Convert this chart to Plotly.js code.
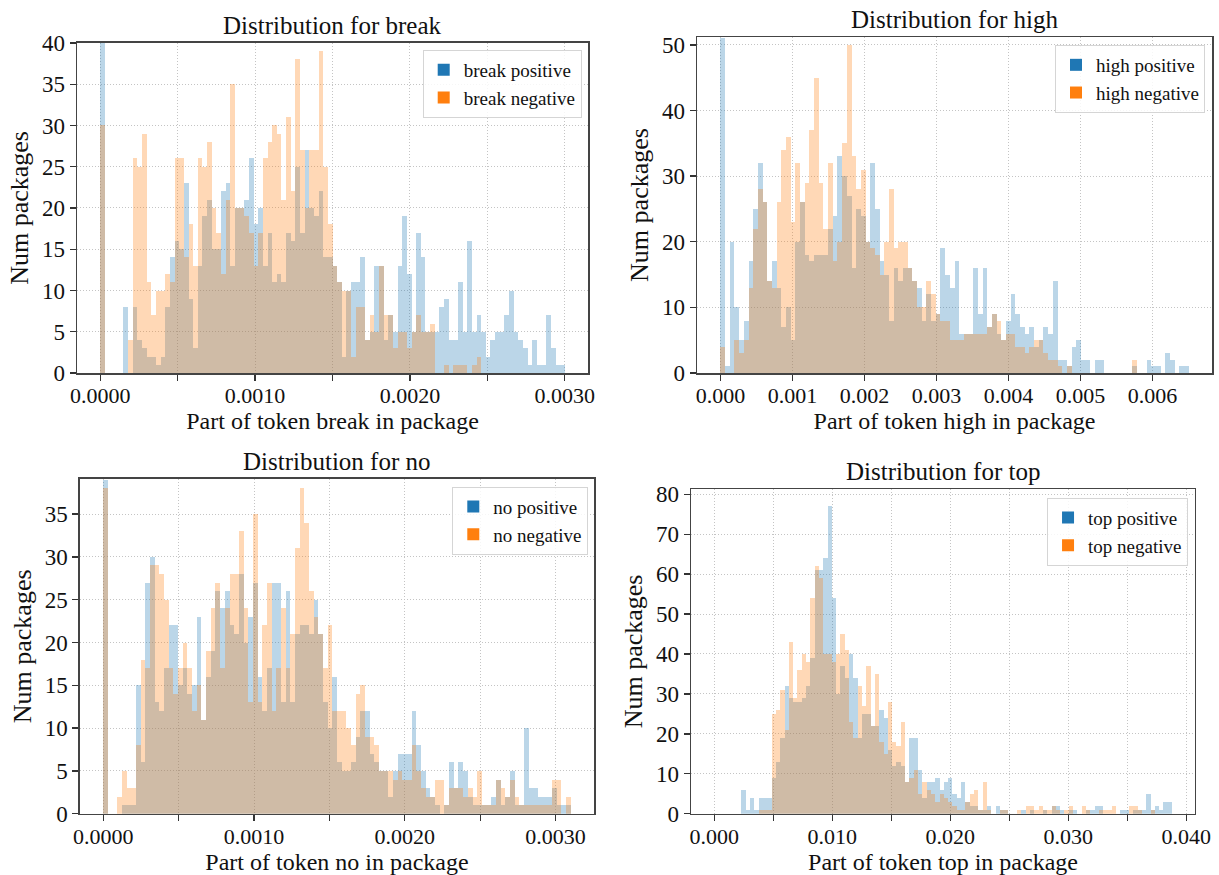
<!DOCTYPE html>
<html>
<head>
<meta charset="utf-8">
<script src="https://cdn.plot.ly/plotly-3.0.1.min.js"></script>
<style>
html,body{margin:0;padding:0;background:#fff;}
#chart{width:1219px;height:875px;}
#chart text{font-family:"Liberation Serif", serif !important;}
</style>
</head>
<body>
<div id="chart"></div>
<script>
// ---------- DATA (bin counts) ----------
const tokens = ["break", "high", "no", "top"];

// break: 100 bins starting at 0, width 0.00003
const breakBinStart = 0, breakBinWidth = 0.00003;
const breakPositive = [40,0,0,0,0,8,0,8,4,3, 2,2,1,2,8,14,16,15,23,9, 3,13,19,21,15,15,22,23,13,20, 20,21,26,18,20,13,17,11,12,11, 17,16,25,17,27,20,19,22,14,14,
  13,11,2,10,11,11,14,4,5,13, 13,4,7,5,13,19,12,5,17,14, 5,5,5,8,9,4,4,11,5,16, 5,7,5,2,4,5,5,7,10,5, 4,3,1,4,1,1,7,3,1,1];
const breakNegative = [30,0,0,0,0,0,4,26,25,29, 11,7,10,10,12,11,26,26,14,18, 13,26,25,28,20,17,12,21,35,20, 20,19,17,13,17,26,28,30,29,21, 31,22,38,27,20,27,27,39,25,18,
  13,11,10,10,2,8,8,4,7,5, 13,7,7,3,5,5,3,5,7,5, 5,6,0,0,1,0,1,1,1,0, 1,2,0,0,0,0,0,0,0,0, 0,0,0,0,0,0,0,0,0,0];

// high: 100 bins starting at 0, width 0.000065
const highBinStart = 0, highBinWidth = 0.000065;
const highPositive = [51,1,20,10,5,8,17,25,32,26, 14,17,13,7,10,5,20,26,18,17, 18,18,18,22,24,33,30,27,16,25, 24,20,32,25,17,15,8,16,14,16, 16,14,13,8,12,8,9,19,15,13,
  17,6,6,6,16,9,16,7,9,6, 5,8,12,9,7,6,7,4,5,7, 6,14,2,2,1,4,5,2,2,0, 2,2,0,0,0,0,0,0,1,0, 0,2,1,1,0,3,2,0,1,1];
const highNegative = [4,0,0,5,3,5,13,22,28,26, 14,13,26,34,36,23,32,26,29,37, 45,29,22,32,17,20,35,50,33,28, 31,20,19,18,15,20,28,19,20,20, 16,14,10,10,14,12,9,8,8,5,
  5,5,6,6,6,6,6,7,9,8, 5,6,6,4,4,3,4,5,5,3, 2,2,1,0,1,0,0,0,0,0, 0,0,0,0,0,0,0,0,2,0, 0,0,0,0,0,0,0,0,0,0];

// no: 100 bins starting at 0, width 0.000031
const noBinStart = 0, noBinWidth = 0.000031;
const noPositive = [39,0,0,0,1,1,1,15,6,27, 30,13,12,17,22,22,15,17,14,15, 23,11,16,19,26,24,26,22,21,28, 20,23,27,16,12,17,27,27,13,26, 13,21,22,22,21,25,21,13,10,16,
  6,5,5,6,9,12,12,7,6,5, 5,2,5,7,7,7,12,8,5,3, 2,1,0,1,6,3,6,5,2,1, 1,1,1,2,4,1,2,5,1,1, 10,3,3,2,2,2,3,1,1,1];
const noNegative = [38,0,0,2,5,3,3,8,18,17, 29,29,28,25,17,14,17,20,17,12, 15,11,19,24,27,17,24,28,28,33, 24,13,35,13,22,27,12,17,24,17, 21,31,38,34,26,23,21,17,22,12,
  12,12,10,8,14,15,9,9,8,5, 5,5,4,5,4,4,8,5,3,2, 2,4,4,1,3,3,3,2,3,2, 5,1,1,1,4,3,2,4,2,1, 1,1,1,1,1,1,4,4,0,2];

// top: 100 bins starting at 0.0023, width 0.000365
const topBinStart = 0.0023, topBinWidth = 0.000365;
const topPositive = [6,1,4,1,4,4,4,9,13,19, 32,29,28,28,29,32,39,61,61,64, 77,54,30,37,34,40,34,19,25,25, 22,22,26,24,16,12,13,12,8,19, 19,11,4,8,8,9,6,8,9,5,
  4,8,3,2,2,1,1,2,0,2, 1,1,0,0,0,1,0,1,0,0, 1,0,2,2,1,0,1,1,0,0, 1,1,2,2,0,0,0,0,1,1, 0,1,1,1,5,1,2,1,3,3];
const topNegative = [0,0,0,0,1,1,1,25,26,31, 21,43,29,36,40,38,54,62,59,40, 40,38,40,45,41,23,19,32,27,37, 22,35,18,15,28,18,17,23,8,9, 11,5,8,6,5,3,5,4,3,2,
  1,1,3,5,6,1,8,1,0,0, 1,1,0,0,1,0,2,2,1,2, 1,1,2,1,0,1,2,0,0,2, 1,0,0,1,1,1,2,0,0,0, 2,2,1,0,0,1,0,0,0,0];

// tick labels
const breakTickVals = [0, 0.0005, 0.0010, 0.0015, 0.0020, 0.0025, 0.0030];
const breakTickText = ["0.0000", "", "0.0010", "", "0.0020", "", "0.0030"];
const highTickVals = [0, 0.001, 0.002, 0.003, 0.004, 0.005, 0.006];
const highTickText = ["0.000", "0.001", "0.002", "0.003", "0.004", "0.005", "0.006"];
const noTickVals = [0, 0.0005, 0.0010, 0.0015, 0.0020, 0.0025, 0.0030];
const noTickText = ["0.0000", "", "0.0010", "", "0.0020", "", "0.0030"];
const topTickVals = [0, 0.005, 0.010, 0.015, 0.020, 0.025, 0.030, 0.035, 0.040];
const topTickText = ["0.000", "", "0.010", "", "0.020", "", "0.030", "", "0.040"];

// ---------- BUILD ----------
const FONT = "Liberation Serif";
const BLUE = "#1f77b4", ORANGE = "#ff7f0e";

function centers(start, width, n) {
  const out = [];
  for (let i = 0; i < n; i++) out.push(start + (i + 0.5) * width);
  return out;
}

const panels = [
  {tok: tokens[0], pos: breakPositive, neg: breakNegative, start: breakBinStart, w: breakBinWidth, ax: "", leg: "legend"},
  {tok: tokens[1], pos: highPositive, neg: highNegative, start: highBinStart, w: highBinWidth, ax: "2", leg: "legend2"},
  {tok: tokens[2], pos: noPositive, neg: noNegative, start: noBinStart, w: noBinWidth, ax: "3", leg: "legend3"},
  {tok: tokens[3], pos: topPositive, neg: topNegative, start: topBinStart, w: topBinWidth, ax: "4", leg: "legend4"}
];

const traces = [];
panels.forEach(p => {
  const xs = centers(p.start, p.w, p.pos.length);
  [[p.pos, BLUE, " positive"], [p.neg, ORANGE, " negative"]].forEach(([vals, col, suf]) => {
    traces.push({
      type: "bar", x: xs, y: vals, width: p.w,
      name: p.tok + suf,
      marker: {color: col, opacity: 0.3, line: {width: 0}},
      xaxis: "x" + p.ax, yaxis: "y" + p.ax, legend: p.leg,
      hoverinfo: "x+y"
    });
  });
});

const GRID = "#c4c4c4", GDASH = "1px,2px";
function xax(domain, range, tv, tt, title, anchor) {
  return {
    domain: domain, range: range, anchor: anchor,
    tickmode: "array", tickvals: tv, ticktext: tt,
    ticks: "outside", ticklen: 6, tickwidth: 1.3, tickcolor: "#333",
    ticklabelstandoff: -4,
    showline: true, mirror: true, linecolor: "#444", linewidth: 1.5,
    showgrid: true, gridcolor: GRID, griddash: GDASH, gridwidth: 1,
    zeroline: false, automargin: false,
    tickfont: {family: FONT, size: 22, color: "#111"},
    title: {text: title, font: {family: FONT, size: 24, color: "#111"}, standoff: 0}
  };
}
function yax(domain, range, dtick, anchor) {
  return {
    domain: domain, range: range, anchor: anchor,
    tick0: 0, dtick: dtick,
    ticks: "outside", ticklen: 6, tickwidth: 1.3, tickcolor: "#333",
    showline: true, mirror: true, linecolor: "#444", linewidth: 1.5,
    showgrid: true, gridcolor: GRID, griddash: GDASH, gridwidth: 1,
    zeroline: false, automargin: false,
    tickfont: {family: FONT, size: 23, color: "#111"},
    title: {text: "Num packages", font: {family: FONT, size: 26, color: "#111"}, standoff: 6}
  };
}
function leg(x, y) {
  return {x: x, y: y, xanchor: "right", yanchor: "top", xref: "paper", yref: "paper",
    bgcolor: "rgba(255,255,255,0.85)", bordercolor: "#d5d5d5", borderwidth: 1,
    font: {family: FONT, size: 19, color: "#111"}, itemwidth: 30, tracegroupgap: 0};
}
function ttl(tok, ax) {
  return {text: "Distribution for " + tok, xref: "x" + ax + " domain", yref: "y" + ax + " domain",
    x: 0.5, y: 1, yanchor: "bottom", xanchor: "center", yshift: 2, showarrow: false,
    font: {family: FONT, size: 25, color: "#111"}};
}

const layout = {
  width: 1219, height: 875,
  margin: {l: 0, r: 0, t: 0, b: 0},
  paper_bgcolor: "#fff", plot_bgcolor: "#fff",
  barmode: "overlay", bargap: 0,
  font: {family: FONT, color: "#111"},
  xaxis: xax([0.0632, 0.4824], [-0.00015, 0.00315], breakTickVals, breakTickText, "Part of token break in package", "y"),
  yaxis: yax([0.5737, 0.9509], [0, 40], 5, "x"),
  xaxis2: xax([0.5718, 0.9943], [-0.000325, 0.006825], highTickVals, highTickText, "Part of token high in package", "y2"),
  yaxis2: yax([0.5737, 0.9577], [0, 51.2], 10, "x2"),
  xaxis3: xax([0.0656, 0.4873], [-0.000155, 0.003255], noTickVals, noTickText, "Part of token no in package", "y3"),
  yaxis3: yax([0.0700, 0.4526], [0, 39.1], 5, "x3"),
  xaxis4: xax([0.5669, 0.9803], [-0.00197, 0.04074], topTickVals, topTickText, "Part of token top in package", "y4"),
  yaxis4: yax([0.0700, 0.4411], [0, 81.3], 10, "x4"),
  legend: leg(0.4772, 0.9429),
  legend2: leg(0.9885, 0.9486),
  legend3: leg(0.4826, 0.4438),
  legend4: leg(0.9746, 0.4312),
  showlegend: true,
  annotations: [ttl(tokens[0], ""), ttl(tokens[1], "2"), ttl(tokens[2], "3"), ttl(tokens[3], "4")]
};

Plotly.newPlot("chart", traces, layout, {displayModeBar: false, staticPlot: true});
</script>
</body>
</html>
